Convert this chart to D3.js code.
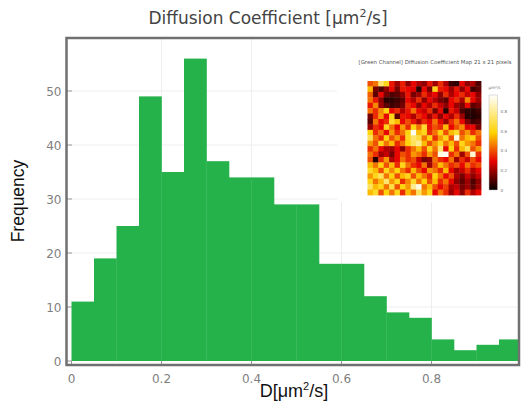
<!DOCTYPE html>
<html>
<head>
<meta charset="utf-8">
<script src="https://cdn.jsdelivr.net/npm/d3@7"></script>
<style>
  body { margin: 0; background: #fff; }
  svg { display: block; }
</style>
</head>
<body>
<svg id="chart" width="522" height="407"></svg>
<script>
// histogram bins (left edge) and counts
const binStarts = [0, 0.05, 0.1, 0.15, 0.2, 0.25, 0.3, 0.35, 0.4, 0.45,
                   0.5, 0.55, 0.6, 0.65, 0.7, 0.75, 0.8, 0.85, 0.9, 0.95];
const counts = [11, 19, 25, 49, 35, 56, 37, 34, 34, 29,
                29, 18, 18, 12, 9, 8, 4, 2, 3, 4];
const binWidth = 0.05;

const xTicks = [0, 0.2, 0.4, 0.6, 0.8];
const yTicks = [0, 10, 20, 30, 40, 50];
const cbTicks = [0, 0.2, 0.4, 0.6, 0.8];

// 21 x 21 inset map, values in um^2/s
const mapValues = [
  [0.40,0.45,0.75,0.62,0.32,0.20,0.33,0.18,0.30,0.22,0.18,0.32,0.20,0.35,0.22,0.08,0.06,0.30,0.18,0.22,0.10],
  [0.55,0.15,0.10,0.18,0.30,0.15,0.32,0.30,0.28,0.05,0.30,0.15,0.62,0.33,0.30,0.20,0.32,0.18,0.30,0.08,0.12],
  [0.42,0.12,0.30,0.15,0.10,0.12,0.18,0.32,0.15,0.20,0.35,0.25,0.30,0.18,0.35,0.22,0.30,0.35,0.25,0.30,0.18],
  [0.45,0.32,0.18,0.05,0.06,0.08,0.12,0.30,0.22,0.35,0.18,0.30,0.22,0.15,0.12,0.30,0.35,0.22,0.48,0.30,0.20],
  [0.32,0.48,0.20,0.12,0.08,0.10,0.15,0.35,0.30,0.18,0.30,0.22,0.35,0.25,0.18,0.30,0.20,0.15,0.30,0.12,0.15],
  [0.45,0.35,0.48,0.60,0.30,0.35,0.22,0.32,0.45,0.30,0.25,0.35,0.15,0.30,0.05,0.32,0.25,0.10,0.06,0.05,0.08],
  [0.15,0.35,0.50,0.30,0.62,0.12,0.32,0.30,0.22,0.35,0.30,0.20,0.32,0.18,0.30,0.22,0.35,0.20,0.05,0.04,0.06],
  [0.12,0.45,0.30,0.35,0.65,0.55,0.30,0.40,0.32,0.22,0.35,0.30,0.45,0.30,0.20,0.35,0.45,0.30,0.15,0.08,0.10],
  [0.20,0.35,0.30,0.62,0.45,0.30,0.50,0.35,0.60,0.45,0.65,0.32,0.40,0.35,0.55,0.30,0.40,0.48,0.28,0.30,0.15],
  [0.60,0.35,0.45,0.30,0.50,0.35,0.45,0.60,0.95,0.55,0.62,0.35,0.45,0.60,0.40,0.55,0.65,0.40,0.50,0.35,0.45],
  [0.72,0.45,0.35,0.60,0.40,0.50,0.35,0.62,0.75,0.68,0.45,0.60,0.35,0.50,0.62,0.40,0.92,0.45,0.55,0.60,0.40],
  [0.50,0.40,0.62,0.45,0.55,0.35,0.45,0.60,0.72,0.80,0.55,0.40,0.50,0.62,0.45,0.55,0.40,0.62,0.50,0.45,0.35],
  [0.35,0.45,0.30,0.22,0.20,0.30,0.18,0.35,0.45,0.55,0.40,0.62,0.45,0.75,0.30,0.60,0.35,0.55,0.70,0.40,0.50],
  [0.45,0.35,0.20,0.25,0.15,0.30,0.40,0.35,0.50,0.45,0.35,0.50,0.40,0.92,0.95,0.35,0.45,0.20,0.40,0.90,0.35],
  [0.40,0.05,0.35,0.50,0.22,0.30,0.45,0.35,0.40,0.25,0.15,0.18,0.45,0.35,0.30,0.45,0.20,0.35,0.25,0.40,0.30],
  [0.55,0.45,0.60,0.40,0.55,0.35,0.62,0.45,0.35,0.30,0.45,0.20,0.40,0.55,0.45,0.35,0.40,0.30,0.45,0.35,0.40],
  [0.65,0.55,0.40,0.62,0.48,0.60,0.45,0.35,0.55,0.40,0.30,0.50,0.45,0.35,0.55,0.30,0.20,0.25,0.35,0.22,0.30],
  [0.50,0.62,0.72,0.45,0.60,0.40,0.55,0.62,0.40,0.55,0.45,0.35,0.60,0.45,0.30,0.40,0.22,0.15,0.25,0.18,0.25],
  [0.62,0.45,0.55,0.75,0.50,0.62,0.35,0.48,0.65,0.45,0.60,0.40,0.55,0.35,0.45,0.30,0.18,0.12,0.20,0.10,0.18],
  [0.72,0.55,0.62,0.45,0.68,0.40,0.60,0.50,0.80,0.92,0.45,0.55,0.40,0.30,0.38,0.22,0.25,0.15,0.20,0.12,0.20],
  [0.55,0.65,0.40,0.60,0.45,0.62,0.35,0.55,0.45,0.72,0.50,0.62,0.30,0.45,0.35,0.20,0.30,0.18,0.35,0.22,0.30]
];
const mapMax = 0.97;

const svg = d3.select('#chart');

// plot area
const plotL = 67, plotR = 518, plotT = 38, plotB = 365;
const x = d3.scaleLinear().domain([0, 1]).range([71.5, 521.5]);
const y = d3.scaleLinear().domain([0, 60]).range([361, 37]);

const defs = svg.append('defs');
defs.append('clipPath').attr('id', 'plotclip')
  .append('rect').attr('x', plotL).attr('y', plotT)
  .attr('width', plotR - plotL).attr('height', plotB - plotT);

// gridlines
svg.append('g').selectAll('line').data(yTicks.filter(d => d > 0)).enter()
  .append('line')
    .attr('x1', plotL).attr('x2', plotR)
    .attr('y1', d => y(d)).attr('y2', d => y(d))
    .attr('stroke', '#eeeeee').attr('stroke-width', 1);
svg.append('g').selectAll('line').data(xTicks.filter(d => d > 0)).enter()
  .append('line')
    .attr('y1', plotT).attr('y2', plotB)
    .attr('x1', d => x(d)).attr('x2', d => x(d))
    .attr('stroke', '#eeeeee').attr('stroke-width', 1);

// bars
svg.append('g').attr('clip-path', 'url(#plotclip)')
  .selectAll('rect').data(binStarts).enter()
  .append('rect')
    .attr('x', d => x(d))
    .attr('width', x(binWidth) - x(0) + 0.3)
    .attr('y', (d, i) => y(counts[i]))
    .attr('height', (d, i) => y(0) - y(counts[i]))
    .attr('fill', '#25b24b');

// ticks (inside)
svg.append('g').selectAll('line').data(xTicks).enter()
  .append('line')
    .attr('x1', d => x(d)).attr('x2', d => x(d))
    .attr('y1', plotB).attr('y2', plotB - 4)
    .attr('stroke', '#999').attr('stroke-width', 1);
svg.append('g').selectAll('line').data(yTicks).enter()
  .append('line')
    .attr('x1', plotL).attr('x2', plotL + 5)
    .attr('y1', d => y(d)).attr('y2', d => y(d))
    .attr('stroke', '#999').attr('stroke-width', 1);

// inset panel background
svg.append('rect')
  .attr('x', 337).attr('y', plotT)
  .attr('width', plotR - 337).attr('height', 164)
  .attr('fill', '#fff');

// frame
svg.append('rect')
  .attr('x', plotL - 0.5).attr('y', plotT)
  .attr('width', plotR - plotL + 1.5).attr('height', plotB - plotT)
  .attr('fill', 'none').attr('stroke', '#707070').attr('stroke-width', 2.5);

// tick labels
svg.append('g').selectAll('text').data(xTicks).enter()
  .append('text')
    .attr('x', d => x(d)).attr('y', 383)
    .attr('text-anchor', 'middle')
    .attr('font-family', 'DejaVu Sans, Verdana, sans-serif')
    .attr('font-size', 12).attr('fill', '#808080')
    .text(d => d === 0 ? '0' : d3.format('.1f')(d));
svg.append('g').selectAll('text').data(yTicks).enter()
  .append('text')
    .attr('x', 61.5).attr('y', d => y(d) + 4.5)
    .attr('text-anchor', 'end')
    .attr('font-family', 'DejaVu Sans, Verdana, sans-serif')
    .attr('font-size', 12).attr('fill', '#808080')
    .text(d => d);

// titles
const title = svg.append('text')
  .attr('x', 268).attr('y', 24)
  .attr('text-anchor', 'middle')
  .attr('font-family', 'DejaVu Sans, Verdana, sans-serif')
  .attr('font-size', 17).attr('fill', '#444');
title.append('tspan').text('Diffusion Coefficient [μm');
title.append('tspan').attr('dy', -7).attr('font-size', 11).text('2');
title.append('tspan').attr('dy', 7).text('/s]');

const xt = svg.append('text')
  .attr('x', 294).attr('y', 397)
  .attr('text-anchor', 'middle')
  .attr('font-family', 'Liberation Sans, Arial, sans-serif')
  .attr('font-size', 18).attr('fill', '#111');
xt.append('tspan').text('D[μm');
xt.append('tspan').attr('dy', -7).attr('font-size', 11).text('2');
xt.append('tspan').attr('dy', 7).text('/s]');

svg.append('text')
  .attr('transform', 'translate(24,201) rotate(-90)')
  .attr('text-anchor', 'middle')
  .attr('font-family', 'Liberation Sans, Arial, sans-serif')
  .attr('font-size', 17.5).attr('fill', '#111')
  .text('Frequency');

// inset map
svg.append('text')
  .attr('x', 511.5).attr('y', 63.5)
  .attr('text-anchor', 'end')
  .attr('font-family', 'DejaVu Sans, Verdana, sans-serif')
  .attr('font-size', 5.4).attr('fill', '#555')
  .text('[Green Channel] Diffusion Coefficient Map 21 x 21 pixels');

const hot = d3.scaleLinear()
  .domain([0, 0.3 * mapMax, 0.6 * mapMax, mapMax])
  .range(['rgb(0,0,0)', 'rgb(230,0,0)', 'rgb(255,210,0)', 'rgb(255,255,255)'])
  .clamp(true);

const n = mapValues.length;
const mx = d3.scaleBand().domain(d3.range(n)).range([367.5, 481]);
const my = d3.scaleBand().domain(d3.range(n)).range([81, 195]);
const cells = [];
mapValues.forEach((row, r) => row.forEach((v, c) => cells.push({ r, c, v })));
svg.append('g').selectAll('rect').data(cells).enter()
  .append('rect')
    .attr('x', d => mx(d.c)).attr('y', d => my(d.r))
    .attr('width', mx.bandwidth() + 0.4).attr('height', my.bandwidth() + 0.4)
    .attr('fill', d => hot(d.v));

// colorbar
const cbY = d3.scaleLinear().domain([0, mapMax]).range([190, 95]);
const grad = defs.append('linearGradient')
  .attr('id', 'hotgrad').attr('x1', 0).attr('y1', 1).attr('x2', 0).attr('y2', 0);
d3.range(0, 1.0001, 0.1).forEach(t => {
  grad.append('stop').attr('offset', t).attr('stop-color', hot(t * mapMax));
});
svg.append('rect')
  .attr('x', 489).attr('y', cbY(mapMax))
  .attr('width', 8.5).attr('height', cbY(0) - cbY(mapMax))
  .attr('fill', 'url(#hotgrad)')
  .attr('stroke', '#bbb').attr('stroke-width', 0.5);
svg.append('g').selectAll('text').data(cbTicks).enter()
  .append('text')
    .attr('x', 500.5).attr('y', d => cbY(d) + 1.5)
    .attr('font-family', 'DejaVu Sans, Verdana, sans-serif')
    .attr('font-size', 4.2).attr('fill', '#777')
    .text(d => d === 0 ? '0' : d3.format('.1f')(d));
svg.append('text')
  .attr('x', 488.5).attr('y', 88.5)
  .attr('font-family', 'DejaVu Sans, Verdana, sans-serif')
  .attr('font-size', 4.2).attr('fill', '#777')
  .text('μm²/s');
</script>
</body>
</html>
